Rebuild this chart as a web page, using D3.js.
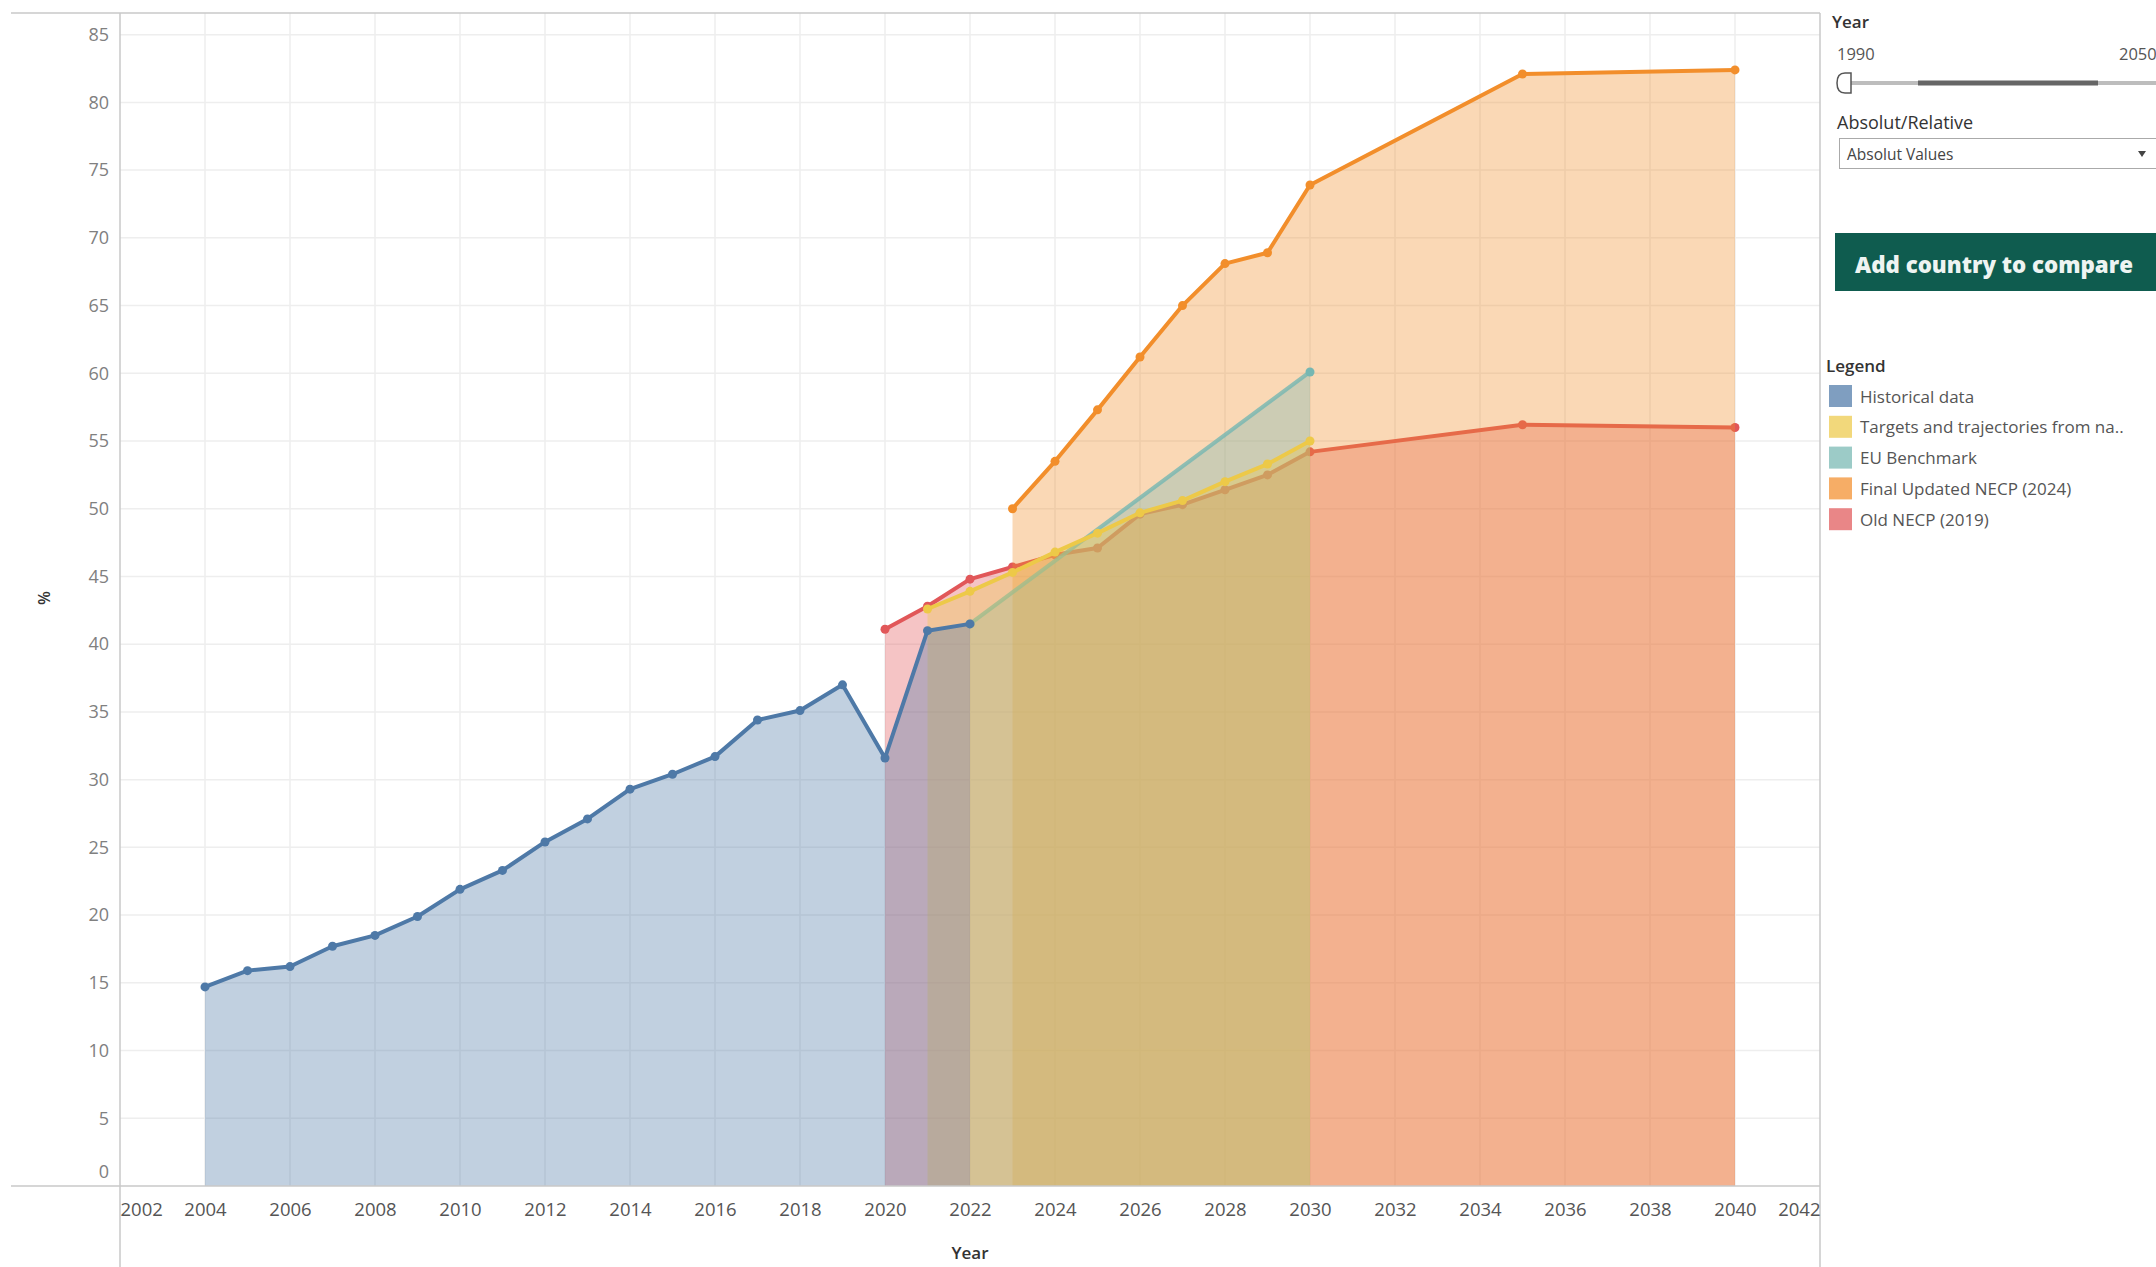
<!DOCTYPE html>
<html>
<head>
<meta charset="utf-8">
<script src="https://cdn.jsdelivr.net/npm/d3@7"></script>
<style>
    body { margin: 0; background: #fff; }
    text { font-family: "Open Sans", "Noto Sans", sans-serif; }
</style>
</head>
<body>
<script>
// chart values
var histYears = [2004, 2005, 2006, 2007, 2008, 2009, 2010, 2011, 2012, 2013, 2014, 2015, 2016, 2017, 2018, 2019, 2020, 2021, 2022];
var histValues = [14.7, 15.9, 16.2, 17.7, 18.5, 19.9, 21.9, 23.3, 25.4, 27.1, 29.3, 30.4, 31.7, 34.4, 35.1, 37.0, 31.6, 41.0, 41.5];

var targetYears = [2021, 2022, 2023, 2024, 2025, 2026, 2027, 2028, 2029, 2030];
var targetValues = [42.6, 43.9, 45.3, 46.8, 48.2, 49.7, 50.6, 52.0, 53.3, 55.0];

var benchYears = [2022, 2030];
var benchValues = [41.5, 60.1];

var finalYears = [2023, 2024, 2025, 2026, 2027, 2028, 2029, 2030, 2035, 2040];
var finalValues = [50.0, 53.5, 57.3, 61.2, 65.0, 68.1, 68.9, 73.9, 82.1, 82.4];

var oldYears = [2020, 2021, 2022, 2023, 2024, 2025, 2026, 2027, 2028, 2029, 2030, 2035, 2040];
var oldValues = [41.1, 42.8, 44.8, 45.7, 46.6, 47.1, 49.6, 50.3, 51.4, 52.5, 54.2, 56.2, 56.0];

var xTicks = [2002, 2004, 2006, 2008, 2010, 2012, 2014, 2016, 2018, 2020, 2022, 2024, 2026, 2028, 2030, 2032, 2034, 2036, 2038, 2040, 2042];
var yTicks = [0, 5, 10, 15, 20, 25, 30, 35, 40, 45, 50, 55, 60, 65, 70, 75, 80, 85];

var legendLabels = ['Historical data', 'Targets and trajectories from na..', 'EU Benchmark', 'Final Updated NECP (2024)', 'Old NECP (2019)'];

window.onload = function() {
    var svg = d3.select('body')
        .append('svg')
        .attr('width', 2156)
        .attr('height', 1267)
        .style('display', 'block');

    var left = 120, right = 1820, top = 13, bottom = 1186;

    var x = d3.scaleLinear().domain([2002, 2042]).range([left, right]);
    var y = d3.scaleLinear().domain([0, 86.6]).range([bottom, top]);

    // tableau 10 colours, same order as the legend
    var colors = ['#4e79a7', '#edc948', '#76b7b2', '#f28e2b', '#e15759'];

    // grid
    svg.append('g').selectAll('line')
        .data(yTicks.slice(1))
        .enter().append('line')
        .attr('x1', left).attr('x2', right)
        .attr('y1', function(d) { return y(d); })
        .attr('y2', function(d) { return y(d); })
        .style('stroke', '#eeeeee').style('stroke-width', 1.5);

    svg.append('g').selectAll('line')
        .data(xTicks.slice(1, -1))
        .enter().append('line')
        .attr('y1', top).attr('y2', bottom)
        .attr('x1', function(d) { return x(d); })
        .attr('x2', function(d) { return x(d); })
        .style('stroke', '#eeeeee').style('stroke-width', 1.5);

    // series, bottom to top (teal line drawn a bit muted, as in the original)
    var series = [
        { years: oldYears, values: oldValues, color: colors[4], lineOpacity: 1 },
        { years: finalYears, values: finalValues, color: colors[3], lineOpacity: 1 },
        { years: benchYears, values: benchValues, color: colors[2], lineOpacity: 0.8 },
        { years: targetYears, values: targetValues, color: colors[1], lineOpacity: 1 },
        { years: histYears, values: histValues, color: colors[0], lineOpacity: 1 }
    ];

    var area = d3.area()
        .x(function(d) { return x(d[0]); })
        .y0(y(0))
        .y1(function(d) { return y(d[1]); });

    var line = d3.line()
        .x(function(d) { return x(d[0]); })
        .y(function(d) { return y(d[1]); });

    series.forEach(function(s) {
        var pts = d3.zip(s.years, s.values);
        var g = svg.append('g');

        g.append('path')
            .datum(pts)
            .attr('d', area)
            .style('fill', s.color)
            .style('fill-opacity', 0.35);

        g.append('path')
            .datum(pts)
            .attr('d', line)
            .style('fill', 'none')
            .style('stroke', s.color)
            .style('stroke-opacity', s.lineOpacity)
            .style('stroke-width', 4)
            .style('stroke-linejoin', 'round');

        g.selectAll('circle')
            .data(pts)
            .enter().append('circle')
            .attr('cx', function(d) { return x(d[0]); })
            .attr('cy', function(d) { return y(d[1]); })
            .attr('r', 4.5)
            .style('fill', s.color);
    });

    // frame lines
    var frame = svg.append('g').style('stroke', '#c8c8c8').style('stroke-width', 1.5);
    frame.append('line').attr('x1', 11).attr('x2', right).attr('y1', top).attr('y2', top);
    frame.append('line').attr('x1', 11).attr('x2', right).attr('y1', bottom).attr('y2', bottom);
    frame.append('line').attr('x1', left).attr('x2', left).attr('y1', top).attr('y2', 1267);
    frame.append('line').attr('x1', right).attr('x2', right).attr('y1', top).attr('y2', 1267);

    // y axis
    var yAxis = svg.append('g')
        .attr('transform', 'translate(' + left + ',0)')
        .call(d3.axisLeft(y).tickValues(yTicks).tickSize(0).tickPadding(11));
    yAxis.select('.domain').remove();
    yAxis.selectAll('text')
        .style('font-size', '18px')
        .style('fill', '#808080')
        .attr('dy', function(d) { return d === 0 ? '-0.45em' : '0.32em'; });

    // x axis
    var xAxis = svg.append('g')
        .attr('transform', 'translate(0,' + bottom + ')')
        .call(d3.axisBottom(x).tickValues(xTicks).tickFormat(d3.format('d')).tickSize(0).tickPadding(17));
    xAxis.select('.domain').remove();
    xAxis.selectAll('text')
        .style('font-size', '18.5px')
        .style('fill', '#555')
        .attr('text-anchor', function(d, i) {
            if (i === 0) return 'start';
            if (i === xTicks.length - 1) return 'end';
            return 'middle';
        });

    // axis titles
    svg.append('text')
        .attr('x', (left + right) / 2)
        .attr('y', 1259)
        .attr('text-anchor', 'middle')
        .style('font-size', '17px')
        .style('font-weight', 600)
        .style('fill', '#333')
        .text('Year');

    svg.append('text')
        .attr('transform', 'translate(44,598) rotate(-90)')
        .attr('text-anchor', 'middle')
        .attr('dominant-baseline', 'central')
        .style('font-size', '16px')
        .style('font-weight', 600)
        .style('fill', '#333')
        .text('%');

    // right panel: year slider
    var panel = svg.append('g');

    panel.append('text')
        .attr('x', 1832).attr('y', 21)
        .attr('dominant-baseline', 'central')
        .style('font-size', '17px').style('font-weight', 600).style('fill', '#333')
        .text('Year');

    panel.append('text')
        .attr('x', 1837).attr('y', 53)
        .attr('dominant-baseline', 'central')
        .style('font-size', '16.5px').style('fill', '#555')
        .text('1990');

    panel.append('text')
        .attr('x', 2119).attr('y', 53)
        .attr('dominant-baseline', 'central')
        .style('font-size', '16.5px').style('fill', '#555')
        .text('2050');

    panel.append('line')
        .attr('x1', 1850).attr('x2', 2160).attr('y1', 83).attr('y2', 83)
        .style('stroke', '#bdbdbd').style('stroke-width', 4);

    panel.append('line')
        .attr('x1', 1918).attr('x2', 2098).attr('y1', 83).attr('y2', 83)
        .style('stroke', '#666').style('stroke-width', 5);

    panel.append('path')
        .attr('d', 'M1851,73 H1845 Q1837,73 1837,83 Q1837,93 1845,93 H1851 Z')
        .style('fill', '#fff').style('stroke', '#555').style('stroke-width', 1.5);

    // dropdown
    panel.append('text')
        .attr('x', 1837).attr('y', 122)
        .attr('dominant-baseline', 'central')
        .style('font-size', '18px').style('fill', '#333')
        .text('Absolut/Relative');

    panel.append('rect')
        .attr('x', 1839.5).attr('y', 138.5)
        .attr('width', 340).attr('height', 30)
        .style('fill', '#fff').style('stroke', '#aaa');

    panel.append('text')
        .attr('x', 1847).attr('y', 154)
        .attr('dominant-baseline', 'central')
        .style('font-size', '15.5px').style('fill', '#444')
        .text('Absolut Values');

    panel.append('path')
        .attr('d', 'M2138,151 L2146,151 L2142,157 Z')
        .style('fill', '#444');

    // button
    panel.append('rect')
        .attr('x', 1835).attr('y', 233)
        .attr('width', 340).attr('height', 58)
        .style('fill', '#0f5c4f');

    panel.append('text')
        .attr('x', 1855).attr('y', 264)
        .attr('dominant-baseline', 'central')
        .attr('textLength', 278)
        .attr('lengthAdjust', 'spacingAndGlyphs')
        .style('font-size', '23px').style('font-weight', 800).style('fill', '#eef4f2')
        .text('Add country to compare');

    // legend
    panel.append('text')
        .attr('x', 1826).attr('y', 365)
        .attr('dominant-baseline', 'central')
        .style('font-size', '17px').style('font-weight', 600).style('fill', '#333')
        .text('Legend');

    var rows = panel.selectAll('.legendRow')
        .data(legendLabels)
        .enter().append('g')
        .attr('class', 'legendRow')
        .attr('transform', function(d, i) {
            return 'translate(1829,' + (396 + i * 30.8) + ')';
        });

    rows.append('rect')
        .attr('x', 0).attr('y', -11)
        .attr('width', 23).attr('height', 22)
        .style('fill', function(d, i) { return colors[i]; })
        .style('fill-opacity', 0.72);

    rows.append('text')
        .attr('x', 31).attr('y', 0)
        .attr('dominant-baseline', 'central')
        .style('font-size', '17px').style('fill', '#555')
        .text(function(d) { return d; });
};
</script>
</body>
</html>
